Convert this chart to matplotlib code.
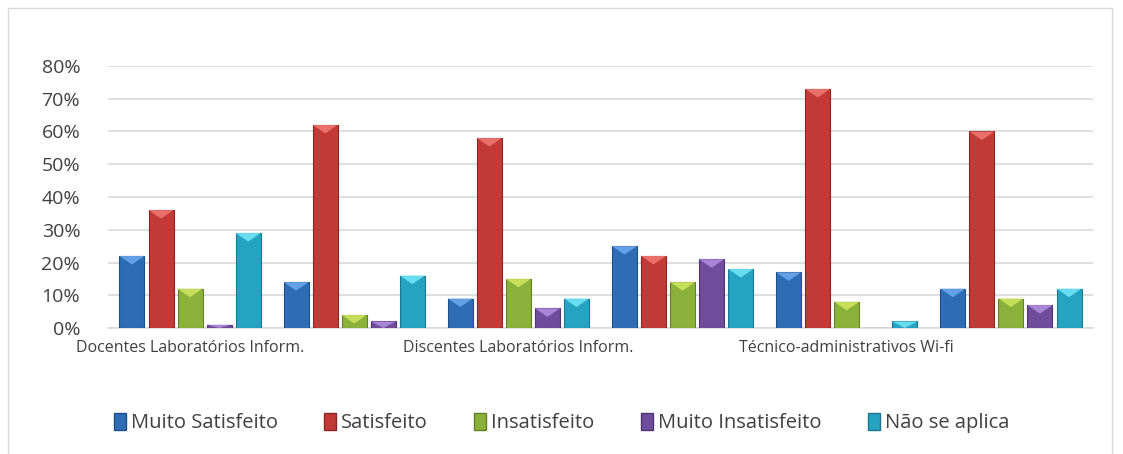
import matplotlib
matplotlib.use("Agg")
import matplotlib.pyplot as plt
import matplotlib.patches as mpatches
from matplotlib.ticker import FuncFormatter
import numpy as np

categories = ["Docentes Laboratórios Inform.", "", "Discentes Laboratórios Inform.", "",
              "Técnico-administrativos Wi-fi", ""]
series_names = ["Muito Satisfeito", "Satisfeito", "Insatisfeito", "Muito Insatisfeito", "Não se aplica"]
muito_satisfeito = [22, 14, 9, 25, 17, 12]
satisfeito = [36, 62, 58, 22, 73, 60]
insatisfeito = [12, 4, 15, 14, 8, 9]
muito_insatisfeito = [1, 2, 6, 21, 0, 7]
nao_se_aplica = [29, 16, 9, 18, 2, 12]
y_ticks = [0, 10, 20, 30, 40, 50, 60, 70, 80]

series = [muito_satisfeito, satisfeito, insatisfeito, muito_insatisfeito, nao_se_aplica]
colors = ["#2e6cb4", "#c23a35", "#8ab23a", "#6f4d9c", "#27a3c2"]
dark = ["#1f4f88", "#8e2522", "#667f25", "#4f3571", "#1a7890"]
light = ["#6aa6ec", "#ef7670", "#cde55f", "#b08ce0", "#6fe4f8"]

plt.rcParams['font.family'] = ['Open Sans', 'DejaVu Sans']

fig = plt.figure(figsize=(11.23, 4.54), dpi=100)
ax = fig.add_axes([108/1123, 1 - 328/454, (1093-108)/1123, (328-66)/454])

n = len(categories)
x = np.arange(n)
step = 0.177
width = 0.152
for i, (vals, c) in enumerate(zip(series, colors)):
    pos = x + (i - 2) * step
    bars = ax.bar(pos, vals, width, color=c, edgecolor=dark[i], linewidth=0.8,
                  label=series_names[i], zorder=3)
    for b in bars:
        h = b.get_height()
        if h <= 0:
            continue
        x0 = b.get_x()
        w = b.get_width()
        th = min(2.6, h)
        tri = mpatches.Polygon([[x0, h], [x0 + w, h], [x0 + w / 2, h - th]],
                               closed=True, facecolor=light[i], edgecolor='none',
                               alpha=0.9, zorder=4)
        ax.add_patch(tri)

ax.set_xlim(-0.5, n - 0.5)
ax.set_ylim(0, 80)
ax.set_yticks(y_ticks)
ax.yaxis.set_major_formatter(FuncFormatter(lambda v, p: f"{int(v)}%"))
ax.set_xticks(x)
ax.set_xticklabels(categories, fontsize=11.5, color="#404040")
ax.tick_params(axis='y', labelsize=14, colors="#404040", length=0, pad=20)
ax.tick_params(axis='x', length=0, pad=9)
ax.grid(axis='y', color="#d9d9d9", linewidth=1.2, zorder=0)
for s in ['top', 'right', 'left']:
    ax.spines[s].set_visible(False)
ax.spines['bottom'].set_color("#d9d9d9")
ax.spines['bottom'].set_linewidth(1.2)

handles = [mpatches.Patch(facecolor=colors[i], edgecolor=dark[i], label=series_names[i])
           for i in range(5)]
fig.legend(handles=handles, loc='center', bbox_to_anchor=(0.5, 1 - 423/454), ncol=5,
           frameon=False, fontsize=14.5, handlelength=0.6, handleheight=0.9,
           handletextpad=0.25, columnspacing=2.3, labelcolor="#404040")

border = mpatches.Rectangle((8/1123, -0.05), (1112-8)/1123, 1 - 8/454 + 0.05,
                            transform=fig.transFigure, fill=False, edgecolor="#d9d9d9",
                            linewidth=1)
fig.patches.append(border)

fig.savefig("out.png", dpi=100)
